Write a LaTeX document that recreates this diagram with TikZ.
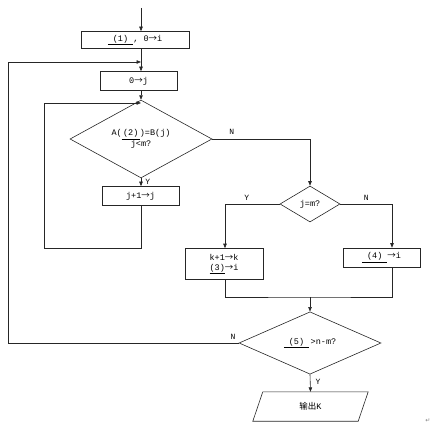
\documentclass[tikz,border=0pt]{standalone}
\usepackage{fontspec}
\setmainfont{Liberation Mono}
\newfontfamily\cjk{Noto Sans CJK SC}
\newfontfamily\djv{DejaVu Sans}
\usetikzlibrary{arrows.meta,shapes.geometric}
\newcommand{\ra}{{\cjk →}}
\begin{document}
\begin{tikzpicture}[x=1pt,y=-1pt,
  every node/.style={font=\fontsize{8.5}{10}\selectfont},
  line/.style={draw=black!85,line width=0.6pt},
  arr/.style={line,-{Triangle[length=4.5pt,width=3.5pt]}},
  procbox/.style={line,rectangle,inner sep=0pt},
  dec/.style={line,diamond,inner sep=0pt,align=center},
  lbl/.style={inner sep=0pt,font=\fontsize{8}{9}\selectfont}]
\useasboundingbox (0,0) rectangle (437,438);
\coordinate (top) at (141,8);
\node[procbox,minimum width=108pt,minimum height=17pt] (b1) at (135,40) {\underline{\ (1)\ }, 0\ra i};
\node[procbox,minimum width=77pt,minimum height=19pt] (b2) at (138.5,81) {0\ra j};
\node[dec,minimum width=142pt,minimum height=48pt] (d1) at (141,139) {A(\underline{\,(2)\,})=B(j)\\[1pt] j<m?};
\node[procbox,minimum width=77pt,minimum height=19pt] (b3) at (140.5,196) {j+1\ra j};
\node[dec,minimum width=60pt,minimum height=36pt] (d2) at (310,204) {j=m?};
\node[procbox,minimum width=78pt,minimum height=31pt,align=center] (b4) at (224,264) {k+1\ra k\\[0pt]\underline{(3)}\ra i};
\node[procbox,minimum width=77pt,minimum height=19pt] (b5) at (381.5,257.5) {\underline{\ (4)\ }\ra i};
\node[dec,minimum width=142pt,minimum height=49pt] (d3) at (310,343) {\underline{\ (5)\ }\,>n-m?};
\node[inner sep=0pt,minimum width=105pt,minimum height=29pt] (out) at (310.5,406.5) {{\cjk 输出}K};
\draw[line] ([xshift=5pt]out.north west) -- ([xshift=5pt]out.north east) -- ([xshift=-5pt]out.south east) -- ([xshift=-5pt]out.south west) -- cycle;
\node[inner sep=0pt,text=black!50,font=\djv\fontsize{6}{7}\selectfont] (pm) at (428,421) {↵};
% coordinates for joins
\coordinate (j0) at (141,62);
\coordinate (o1) at (8,62);
\coordinate (j1) at (141,103);
\coordinate (i1) at (44,103);
\coordinate (i2) at (44,248);
\coordinate (m) at (310,297);
% connectors
\draw[arr] (top) -- (b1.north -| top);
\draw[arr] (b1.south -| top) -- (b2.north -| top);
\draw[arr] (b2.south -| top) -- (d1.north);
\draw[arr] (d1.south) -- (b3.north -| d1.south) node[lbl,pos=0.4,right=4pt] {Y};
\draw[arr] (b3.south -| d1.south) |- (i2) -- (i1) -- (j1);
\draw[arr] (d1.east) -| (d2.north) node[lbl,pos=0.1,above=4pt] {N};
\draw[arr] (d2.west) -| ([xshift=1pt]b4.north) node[lbl,pos=0.3,above=3pt] {Y};
\draw[arr] (d2.east) -| ([xshift=10.5pt]b5.north) node[lbl,pos=0.25,above=3pt] {N};
\draw[line] ([xshift=1pt]b4.south) |- (m) -| ([xshift=10.5pt]b5.south);
\draw[arr] (m) -- (d3.north);
\draw[arr] (d3.west) -| (o1) -- (j0);
\node[lbl] at (233,337) {N};
\draw[arr] (d3.south) -- (out.north) node[lbl,pos=0.4,right=5pt] {Y};
\end{tikzpicture}
\end{document}
